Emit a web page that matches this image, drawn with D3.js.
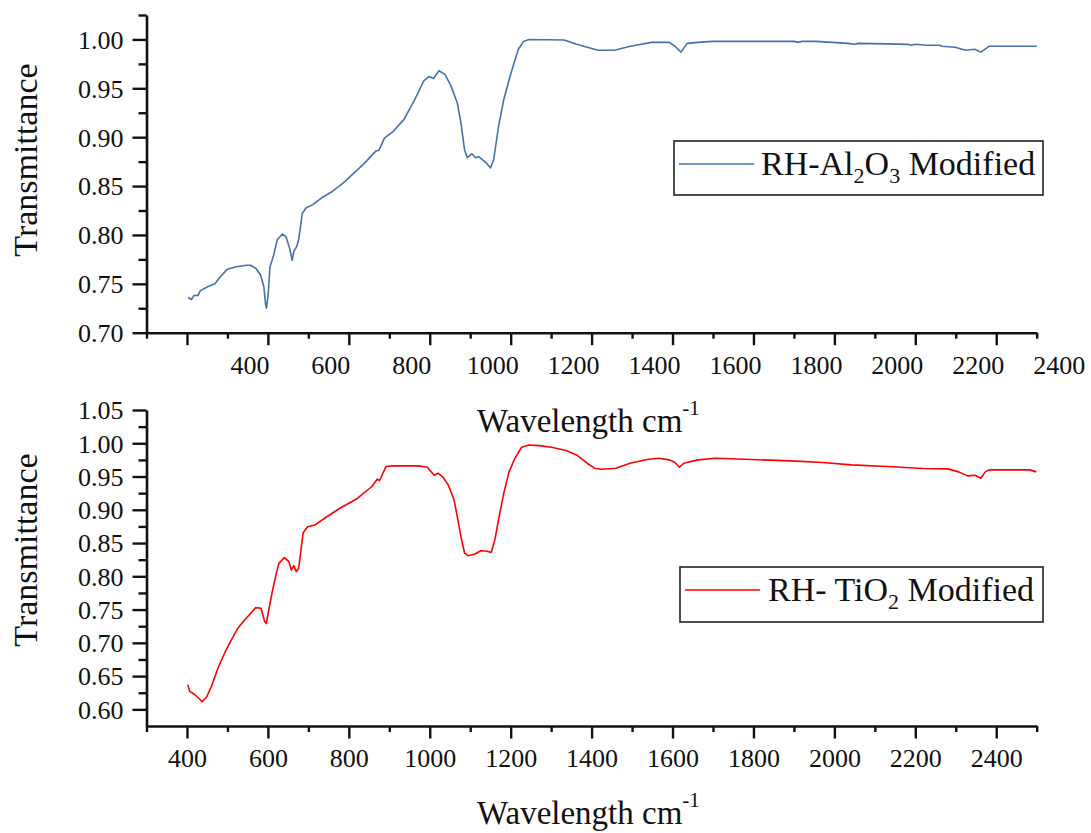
<!DOCTYPE html>
<html>
<head>
<meta charset="utf-8">
<script src="https://cdn.jsdelivr.net/npm/d3@7"></script>
<style>
  html, body { margin: 0; padding: 0; background: #fff; }
  svg { display: block; }
  text { font-family: "Liberation Serif", "Times New Roman", serif; fill: #111; }
</style>
</head>
<body>
<svg id="chart" width="1091" height="833"></svg>
<script>
// FTIR spectra: wavenumber (cm-1) and transmittance for the two modified rice-husk samples
const waveAl = [202.5, 211, 217, 227, 233, 251, 269, 282, 300, 322, 348, 357, 370, 382, 390, 394, 396.5, 401, 405, 414,
  423, 436, 445, 454, 460, 464, 471, 476, 485, 494, 511, 533, 559, 586, 613, 639, 666, 675, 688, 710,
  736, 763, 785, 798, 809, 823, 838, 853, 868, 877, 886, 893, 904, 913, 921, 939, 950, 958, 970, 983,
  1001, 1019, 1032, 1045, 1132, 1163, 1216, 1256, 1296, 1348, 1392, 1406, 1421, 1436, 1463, 1498, 1577, 1700, 1710, 1720,
  1754, 1834, 1850, 1860, 1931, 1980, 1990, 2000, 2028, 2060, 2066, 2098, 2125, 2147, 2162, 2182, 2300];
const transAl = [0.736, 0.734, 0.738, 0.738, 0.743, 0.747, 0.750, 0.757, 0.765, 0.7675, 0.769, 0.769, 0.766, 0.759, 0.747, 0.730, 0.725, 0.740, 0.767, 0.779,
  0.795, 0.801, 0.798, 0.786, 0.774, 0.783, 0.788, 0.795, 0.822, 0.8275, 0.831, 0.838, 0.8445, 0.853, 0.8635, 0.8735, 0.8855, 0.887, 0.899, 0.906,
  0.918, 0.9385, 0.9575, 0.962, 0.960, 0.968, 0.964, 0.952, 0.935, 0.915, 0.887, 0.879, 0.883, 0.879, 0.880, 0.874, 0.8685, 0.877, 0.911, 0.9385,
  0.966, 0.990, 0.998, 1.000, 0.9995, 0.995, 0.989, 0.989, 0.993, 0.997, 0.997, 0.993, 0.987, 0.996, 0.997, 0.998, 0.998, 0.998, 0.997, 0.998,
  0.998, 0.996, 0.995, 0.996, 0.9955, 0.995, 0.994, 0.995, 0.994, 0.994, 0.993, 0.992, 0.989, 0.990, 0.987, 0.993, 0.993];

const waveTi = [402, 407, 420, 438, 449, 460, 478, 495, 512, 526, 539, 557, 570, 583, 592, 596, 603, 610, 619, 627,
  641, 652, 658, 664, 670, 676, 687, 698, 716, 742, 777, 821, 857, 870, 876, 892, 910, 972, 994, 1011,
  1020, 1033, 1046, 1060, 1068, 1077, 1086, 1095, 1112, 1126, 1139, 1152, 1161, 1170, 1183, 1196, 1210, 1227, 1245, 1271,
  1301, 1337, 1363, 1389, 1407, 1425, 1460, 1495, 1540, 1566, 1593, 1606, 1617, 1628, 1663, 1707, 1778, 1892, 1972, 2042,
  2130, 2219, 2281, 2307, 2329, 2347, 2362, 2373, 2382, 2483, 2499];
const transTi = [0.637, 0.627, 0.622, 0.6115, 0.619, 0.634, 0.664, 0.687, 0.707, 0.722, 0.732, 0.744, 0.753, 0.752, 0.732, 0.729, 0.752, 0.7745, 0.7995, 0.8195,
  0.828, 0.822, 0.8095, 0.816, 0.807, 0.812, 0.865, 0.8745, 0.877, 0.888, 0.902, 0.917, 0.935, 0.946, 0.944, 0.965, 0.966, 0.966, 0.964, 0.952,
  0.955, 0.949, 0.937, 0.915, 0.890, 0.860, 0.835, 0.831, 0.8335, 0.8385, 0.838, 0.836, 0.855, 0.885, 0.925, 0.957, 0.977, 0.994, 0.9974, 0.9965,
  0.994, 0.989, 0.9825, 0.970, 0.9625, 0.961, 0.9625, 0.970, 0.976, 0.9775, 0.975, 0.971, 0.964, 0.970, 0.975, 0.9775, 0.976, 0.9735, 0.971, 0.9675,
  0.965, 0.962, 0.9615, 0.957, 0.951, 0.952, 0.9475, 0.957, 0.960, 0.960, 0.957];

// axis ticks and labels
const topMajorX = [200, 400, 600, 800, 1000, 1200, 1400, 1600, 1800, 2000, 2200];
const topMinorX = [100, 300, 500, 700, 900, 1100, 1300, 1500, 1700, 1900, 2100, 2300];
const topLabelX = [400, 600, 800, 1000, 1200, 1400, 1600, 1800, 2000, 2200, 2400];
const botMajorX = [400, 600, 800, 1000, 1200, 1400, 1600, 1800, 2000, 2200, 2400];
const botMinorX = [300, 500, 700, 900, 1100, 1300, 1500, 1700, 1900, 2100, 2300, 2500];
const topMajorY = [0.70, 0.75, 0.80, 0.85, 0.90, 0.95, 1.00];
const topMinorY = [0.725, 0.775, 0.825, 0.875, 0.925, 0.975, 1.025];
const botMajorY = [0.60, 0.65, 0.70, 0.75, 0.80, 0.85, 0.90, 0.95, 1.00, 1.05];
const botMinorY = [0.625, 0.675, 0.725, 0.775, 0.825, 0.875, 0.925, 0.975, 1.025];

const seriesColors = ["#4672a8", "#ff0000"];

const SERIF = '"Liberation Serif", "Times New Roman", serif';
const svg = d3.select("#chart");
const axisLeftX = 146.5, axisRightX = 1036.7;

function panel(opts) {
  const x = d3.scaleLinear().domain(opts.xDomain).range([axisLeftX, axisRightX]);
  const y = d3.scaleLinear().domain(opts.yDomain).range([opts.bottom, opts.top]);
  const g = svg.append("g");

  // x axis: minor then major ticks
  const xMinor = d3.axisBottom(x).tickValues(opts.xMinor).tickSize(6).tickFormat("");
  const xMajor = d3.axisBottom(x).tickValues(opts.xMajor).tickSize(12.5).tickSizeOuter(0)
    .tickFormat(opts.xLabelShift ? "" : d3.format("d")).tickPadding(6);
  const gxm = g.append("g").attr("transform", `translate(0,${opts.bottom})`).call(xMinor);
  const gx = g.append("g").attr("transform", `translate(0,${opts.bottom})`).call(xMajor);
  gxm.select(".domain").remove();

  // y axis
  const yMinor = d3.axisLeft(y).tickValues(opts.yMinor).tickSize(8).tickFormat("");
  const yMajor = d3.axisLeft(y).tickValues(opts.yMajor).tickSize(14).tickSizeOuter(0)
    .tickFormat(d3.format(".2f")).tickPadding(9);
  const gym = g.append("g").attr("transform", `translate(${axisLeftX},0)`).call(yMinor);
  const gy = g.append("g").attr("transform", `translate(${axisLeftX},0)`).call(yMajor);
  gym.select(".domain").remove();

  [gx, gxm, gy, gym].forEach(a => {
    a.attr("font-family", SERIF).attr("font-size", 26);
    a.selectAll("line").attr("stroke", "#111").attr("stroke-width", 2.4);
    a.selectAll(".domain").attr("stroke", "#111").attr("stroke-width", 2.6);
    a.selectAll("text").attr("fill", "#111");
  });
  gx.selectAll("text").attr("dy", "0.85em");
  gy.selectAll("text").attr("dy", "0.34em");

  // shifted tick labels on the upper spectrum's wavenumber axis
  if (opts.xLabelShift) {
    g.append("g").attr("font-family", SERIF).attr("font-size", 26)
      .selectAll("text").data(opts.xLabels).join("text")
      .attr("x", d => x(d) + opts.xLabelShift)
      .attr("y", opts.bottom + 41)
      .attr("text-anchor", "middle")
      .text(d => d);
  }

  // spectrum
  const pts = d3.zip(opts.wave, opts.trans);
  g.append("path").datum(pts)
    .attr("fill", "none")
    .attr("stroke", opts.color)
    .attr("stroke-width", 1.6)
    .attr("stroke-linejoin", "round")
    .attr("d", d3.line().x(d => x(d[0])).y(d => y(d[1])));

  // axis titles
  g.append("text")
    .attr("transform", `translate(37,${opts.yTitleY}) rotate(-90)`)
    .attr("text-anchor", "middle")
    .attr("font-size", 34)
    .text("Transmittance");
  const xt = g.append("text")
    .attr("x", 477).attr("y", opts.xTitleY)
    .attr("font-size", 33);
  xt.append("tspan").text("Wavelength cm");
  xt.append("tspan").attr("dy", -17).attr("font-size", 21).text("-1");

  // legend
  const L = opts.legend;
  g.append("rect").attr("x", L.x).attr("y", L.y).attr("width", L.w).attr("height", L.h)
    .attr("fill", "#fff").attr("stroke", "#222").attr("stroke-width", 1.6);
  g.append("line").attr("x1", L.x + 5).attr("x2", L.x + 80)
    .attr("y1", L.y + 23).attr("y2", L.y + 23)
    .attr("stroke", opts.color).attr("stroke-width", 1.6);
  const lt = g.append("text").attr("x", L.tx).attr("y", L.y + 34).attr("font-size", 34);
  let shift = 0;
  L.parts.forEach(p => {
    const target = p.sub ? 8 : 0;
    const ts = lt.append("tspan").attr("dy", target - shift).text(p.t);
    if (p.sub) ts.attr("font-size", 22);
    shift = target;
  });
}

panel({
  xDomain: [100, 2300], yDomain: [0.70, 1.025], top: 15, bottom: 332.7,
  xMajor: topMajorX, xMinor: topMinorX, xLabels: topLabelX, xLabelShift: -18,
  yMajor: topMajorY, yMinor: topMinorY,
  wave: waveAl, trans: transAl, color: seriesColors[0],
  yTitleY: 160, xTitleY: 432,
  legend: { x: 674, y: 141, w: 369, h: 54, tx: 761,
    parts: [{ t: "RH-Al" }, { t: "2", sub: true }, { t: "O" }, { t: "3", sub: true }, { t: " Modified" }] }
});

panel({
  xDomain: [300, 2500], yDomain: [0.575, 1.05], top: 410, bottom: 726,
  xMajor: botMajorX, xMinor: botMinorX,
  yMajor: botMajorY, yMinor: botMinorY,
  wave: waveTi, trans: transTi, color: seriesColors[1],
  yTitleY: 550, xTitleY: 824,
  legend: { x: 680, y: 567, w: 363, h: 55, tx: 768,
    parts: [{ t: "RH- TiO" }, { t: "2", sub: true }, { t: " Modified" }] }
});
</script>
</body>
</html>
